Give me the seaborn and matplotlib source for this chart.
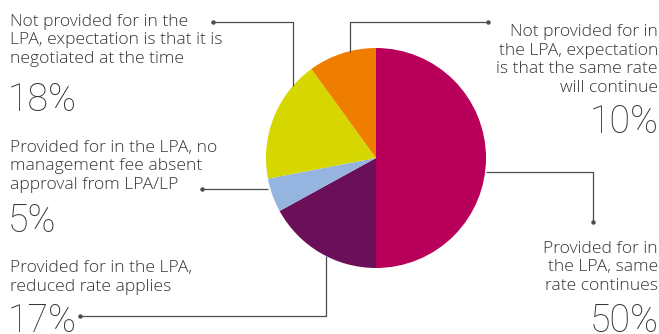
import matplotlib
matplotlib.use("Agg")
import matplotlib.pyplot as plt
import seaborn as sns

# Share of responses per scenario, clockwise from 12 o'clock
categories = [
    "Provided for in\nthe LPA, same\nrate continues",
    "Provided for in the LPA,\nreduced rate applies",
    "Provided for in the LPA, no\nmanagement fee absent\napproval from LPA/LP",
    "Not provided for in the\nLPA, expectation is that it is\nnegotiated at the time",
    "Not provided for in\nthe LPA, expectation\nis that the same rate\nwill continue",
]
shares = [50, 17, 5, 18, 10]
colors = ["#B8005A", "#6A0F58", "#95B4E0", "#D6D700", "#EE7D00"]

sns.set_theme(style="white")
plt.rcParams["font.family"] = ["Open Sans", "DejaVu Sans"]

W, H = 659, 334
fig = plt.figure(figsize=(W / 100, H / 100), dpi=100)
ax = fig.add_axes([0, 0, 1, 1])

# pixel-like coordinates with y measured downward from the top edge
def Y(y):
    return H - y

ax.pie(shares, colors=colors, startangle=90, counterclock=False,
       center=(376, Y(158)), radius=110,
       wedgeprops=dict(linewidth=0))
ax.set_xlim(0, W)
ax.set_ylim(0, H)
ax.set_aspect("equal")
ax.axis("off")

txt = "#363636"
line_c = "#4d4d4d"
body = dict(fontsize=12.6, color=txt, linespacing=1.22, fontweight="light")
big = dict(fontsize=27, color=txt, family=["Roboto", "DejaVu Sans"], fontweight="light")

def leader(points):
    xs = [p[0] for p in points]
    ys = [Y(p[1]) for p in points]
    ax.plot(xs, ys, color=line_c, lw=0.9, solid_capstyle="butt")
    ax.plot(xs[0], ys[0], "o", color=line_c, ms=2.2)

# 18% (top-left)
ax.text(10, Y(63), categories[3], ha="left", va="baseline", **body)
ax.text(8, Y(111), f"{shares[3]}%", ha="left", va="baseline", **big)
leader([(213, 22), (293, 22), (293, 86)])

# 5% (middle-left)
ax.text(10, Y(189), categories[2], ha="left", va="baseline", **body)
ax.text(8, Y(232), f"{shares[2]}%", ha="left", va="baseline", **big)
leader([(202, 189), (268, 189)])

# 17% (bottom-left)
ax.text(10, Y(291), categories[1], ha="left", va="baseline", **body)
ax.text(8, Y(332), f"{shares[1]}%", ha="left", va="baseline", **big)
leader([(80, 316), (326, 316), (326, 256)])

# 10% (top-right)
ax.text(658, Y(92), categories[4], ha="right", va="baseline", multialignment="right", **body)
ax.text(659, Y(133), f"{shares[4]}%", ha="right", va="baseline", **big)
leader([(488, 22), (350, 22), (350, 52)])

# 50% (bottom-right)
ax.text(658, Y(290), categories[0], ha="right", va="baseline", multialignment="right", **body)
ax.text(659, Y(332), f"{shares[0]}%", ha="right", va="baseline", **big)
leader([(593, 222), (593, 172), (486, 172)])

fig.savefig("out.png", dpi=100)
